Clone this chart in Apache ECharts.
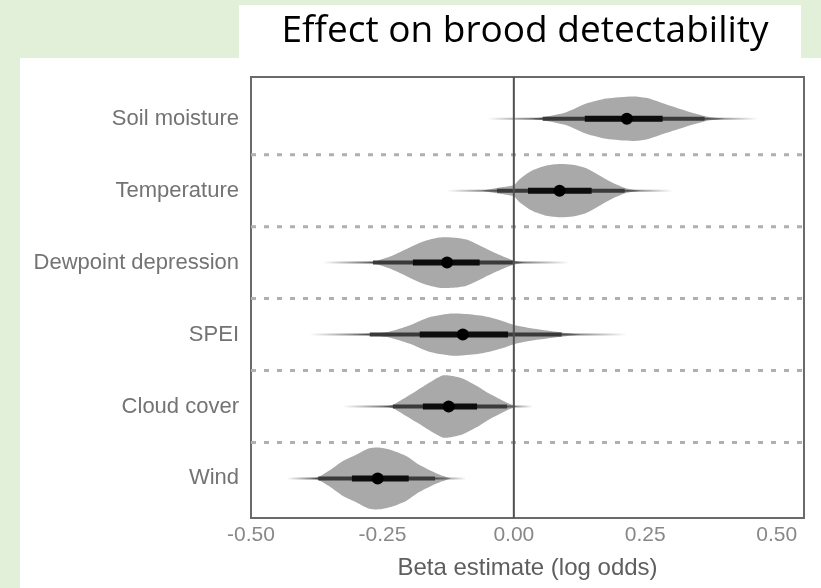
<!DOCTYPE html>
<html>
<head>
<meta charset="utf-8">
<script src="https://cdn.jsdelivr.net/npm/echarts@6/dist/echarts.min.js"></script>
<style>
  html, body { margin: 0; padding: 0; background: #e2efd9; }
  #panel { position: absolute; left: 20px; top: 58px; width: 801px; height: 530px; background: #fff; }
  #tbox { position: absolute; left: 239px; top: 5px; width: 562px; height: 56px; background: #fff; }
  #chart { position: absolute; left: 0; top: 0; width: 821px; height: 588px; }
</style>
</head>
<body>
<div id="panel"></div>
<div id="tbox"></div>
<div id="chart"></div>
<script>
// Categories from bottom (y = 1) to top (y = 6)
const categories = ['Wind', 'Cloud cover', 'SPEI', 'Dewpoint depression', 'Temperature', 'Soil moisture'];

// Density outlines: [beta, half-height in category units]
const windOutline = [[-0.40,0],[-0.375,0.01],[-0.351,0.11],[-0.326,0.24],[-0.300,0.33],[-0.275,0.42],[-0.256,0.43],[-0.231,0.39],[-0.204,0.31],[-0.180,0.19],[-0.147,0.07],[-0.12,0]];
const cloudOutline = [[-0.25,0],[-0.231,0.02],[-0.212,0.10],[-0.185,0.22],[-0.161,0.33],[-0.136,0.43],[-0.123,0.43],[-0.098,0.39],[-0.071,0.29],[-0.047,0.18],[-0.014,0.055],[0.005,0]];
const speiOutline = [[-0.31,0],[-0.275,0.01],[-0.237,0.04],[-0.199,0.125],[-0.161,0.24],[-0.123,0.29],[-0.098,0.29],[-0.060,0.26],[-0.022,0.19],[0.005,0.125],[0.048,0.07],[0.090,0.03],[0.13,0]];
const dewOutline = [[-0.30,0],[-0.269,0.01],[-0.237,0.08],[-0.204,0.19],[-0.174,0.29],[-0.142,0.35],[-0.117,0.35],[-0.090,0.32],[-0.060,0.22],[-0.033,0.125],[-0.005,0.04],[0.02,0]];
const tempOutline = [[-0.06,0],[-0.03,0.04],[0.0,0.08],[0.011,0.16],[0.035,0.28],[0.062,0.35],[0.087,0.37],[0.112,0.36],[0.138,0.31],[0.163,0.21],[0.188,0.11],[0.215,0.03],[0.24,0]];
const soilOutline = [[0.03,0],[0.055,0.02],[0.10,0.09],[0.138,0.21],[0.176,0.28],[0.226,0.31],[0.252,0.29],[0.289,0.20],[0.327,0.11],[0.366,0.03],[0.40,0]];
const outlines = [windOutline, cloudOutline, speiOutline, dewOutline, tempOutline, soilOutline];

// Point estimates and intervals (same order as categories)
const medians = [-0.259, -0.124, -0.097, -0.127, 0.087, 0.215];
const thickLo = [-0.308, -0.173, -0.179, -0.192, 0.027, 0.135];
const thickHi = [-0.200, -0.070, -0.011, -0.065, 0.148, 0.283];
const midLo   = [-0.372, -0.230, -0.274, -0.268, -0.032, 0.055];
const midHi   = [-0.150, -0.013, 0.091, -0.002, 0.211, 0.363];
const thinLo  = [-0.432, -0.325, -0.388, -0.363, -0.127, -0.050];
const thinHi  = [-0.090, 0.036, 0.215, 0.106, 0.302, 0.464];

// Separator lines between categories and reference line
const separators = [1.5, 2.5, 3.5, 4.5, 5.5];
const refLine = [0];

const chart = echarts.init(document.getElementById('chart'), null, { renderer: 'canvas' });

const labelFont = 'Liberation Sans, Arial, sans-serif';

const option = {
  animation: false,
  backgroundColor: 'transparent',
  title: {
    text: 'Effect on brood detectability',
    left: 520,
    top: 8,
    textAlign: 'center',
    textStyle: { fontFamily: 'Open Sans', fontSize: 37, fontWeight: 'normal', color: '#000' }
  },
  grid: {
    left: 251, right: 17, top: 77, bottom: 70,
    show: true, backgroundColor: '#fff', borderColor: '#6a6a6a', borderWidth: 2
  },
  xAxis: {
    type: 'value',
    min: -0.5, max: 0.552, interval: 0.25,
    axisLine: { show: false }, axisTick: { show: false }, splitLine: { show: false },
    axisLabel: {
      showMaxLabel: false,
      formatter: v => v.toFixed(2),
      color: '#888', fontSize: 21, fontFamily: labelFont, margin: 7
    },
    name: 'Beta estimate (log odds)',
    nameLocation: 'middle', nameGap: 38,
    nameTextStyle: { color: '#5e5e5e', fontSize: 24, fontFamily: labelFont }
  },
  yAxis: {
    type: 'value',
    min: 0.45, max: 6.58,
    axisLine: { show: false }, axisTick: { show: false }, splitLine: { show: false },
    axisLabel: {
      customValues: [1, 2, 3, 4, 5, 6],
      formatter: v => categories[Math.round(v) - 1] || '',
      color: '#737373', fontSize: 22, fontFamily: labelFont, margin: 12
    }
  },
  series: [
    {
      type: 'custom',
      data: separators,
      z: 1,
      renderItem: (params, api) => {
        const cs = params.coordSys;
        const y = api.coord([0, api.value(0)])[1];
        return {
          type: 'line',
          shape: { x1: cs.x, y1: y, x2: cs.x + cs.width, y2: y },
          style: { stroke: '#b0b0b0', lineWidth: 3, lineDash: [5, 8] }
        };
      }
    },
    {
      type: 'custom',
      data: categories.map((c, i) => [i]),
      z: 2,
      renderItem: (params, api) => {
        const i = api.value(0);
        const yc = i + 1;
        const ol = outlines[i];
        const pts = [];
        for (let k = 0; k < ol.length; k++) pts.push(api.coord([ol[k][0], yc + ol[k][1]]));
        for (let k = ol.length - 1; k >= 0; k--) pts.push(api.coord([ol[k][0], yc - ol[k][1]]));
        const cy = api.coord([0, yc])[1];
        const xTl = api.coord([thinLo[i], yc])[0], xTh = api.coord([thinHi[i], yc])[0];
        const xMl = api.coord([midLo[i], yc])[0], xMh = api.coord([midHi[i], yc])[0];
        const xKl = api.coord([thickLo[i], yc])[0], xKh = api.coord([thickHi[i], yc])[0];
        const xP = api.coord([medians[i], yc])[0];
        const f1 = (xMl - xTl) / (xTh - xTl), f2 = (xMh - xTl) / (xTh - xTl);
        return {
          type: 'group',
          children: [
            { type: 'polygon', shape: { points: pts, smooth: 0.25 }, style: { fill: '#a9a9a9' } },
            {
              type: 'rect', shape: { x: xTl, y: cy - 1, width: xTh - xTl, height: 2 },
              style: {
                fill: new echarts.graphic.LinearGradient(0, 0, 1, 0, [
                  { offset: 0, color: 'rgba(80,80,80,0)' },
                  { offset: f1, color: 'rgba(60,60,60,0.85)' },
                  { offset: f2, color: 'rgba(60,60,60,0.85)' },
                  { offset: 1, color: 'rgba(80,80,80,0)' }
                ])
              }
            },
            { type: 'rect', shape: { x: xMl, y: cy - 2, width: xMh - xMl, height: 4 }, style: { fill: '#3a3a3a' } },
            { type: 'rect', shape: { x: xKl, y: cy - 3, width: xKh - xKl, height: 6 }, style: { fill: '#0d0d0d' } },
            { type: 'circle', shape: { cx: xP, cy: cy, r: 6 }, style: { fill: '#000' } }
          ]
        };
      }
    },
    {
      type: 'custom',
      data: refLine,
      z: 3,
      renderItem: (params, api) => {
        const cs = params.coordSys;
        const x = api.coord([api.value(0), 1])[0];
        return {
          type: 'line',
          shape: { x1: x, y1: cs.y, x2: x, y2: cs.y + cs.height },
          style: { stroke: '#505050', lineWidth: 2 }
        };
      }
    }
  ]
};

chart.setOption(option);
</script>
</body>
</html>
